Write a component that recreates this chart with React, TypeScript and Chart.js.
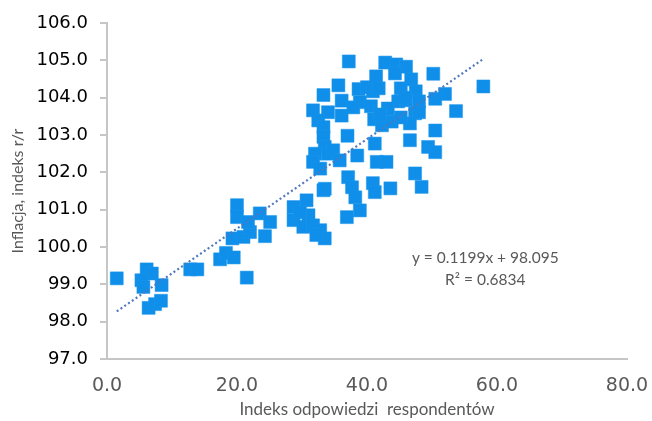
import { useEffect, useRef } from "react";
import { Chart, registerables } from "chart.js";

Chart.register(...registerables);

// Indeks odpowiedzi respondentów (x) and Inflacja, indeks r/r (y)
const xValues = [
  1.5, 6.1, 6.9, 5.3, 5.6, 8.4, 6.4, 7.4, 8.3, 12.8, 13.9, 17.4, 18.3, 19.5, 21.5,
  20.0, 20.0, 19.3, 21.0, 22.0, 21.7, 23.5, 25.1, 24.3,
  28.7, 30.7, 31.0, 28.7, 30.2, 31.7, 32.8, 33.5, 33.3, 29.7, 32.2,
  37.1, 37.7, 38.2, 38.9, 36.9, 40.9, 41.2, 43.6, 47.4, 48.4,
  37.2, 35.6, 33.3, 31.7, 32.5, 34.0, 36.1, 38.7, 40.0, 38.9, 36.1, 37.9, 33.3, 33.3,
  33.5, 32.0, 31.7, 32.8, 34.0, 34.8, 35.8, 33.5, 37.0, 38.5, 41.2, 41.5, 43.0, 46.6,
  49.4, 50.5, 50.5, 50.2, 52.0, 50.5, 53.7, 57.9,
  42.8, 44.5, 46.0, 41.4, 40.9, 40.6, 41.1, 46.8, 47.5, 48.0, 47.4, 46.6, 42.3, 43.8,
  45.2, 41.8, 45.2, 44.8, 43.2, 44.3, 46.0, 48.0, 42.0, 45.8,
];
const yValues = [
  99.16, 99.4, 99.29, 99.11, 98.93, 98.98, 98.37, 98.47, 98.56, 99.4, 99.4, 99.67, 99.84, 99.72, 99.18,
  101.12, 100.8, 100.23, 100.27, 100.4, 100.67, 100.9, 100.67, 100.29,
  101.07, 101.25, 100.85, 100.72, 100.54, 100.58, 100.45, 100.23, 101.52, 100.93, 100.32,
  101.87, 101.6, 101.33, 100.98, 100.8, 101.71, 101.47, 101.57, 101.97, 101.61,
  104.97, 104.33, 104.07, 103.66, 103.39, 103.61, 103.92, 104.23, 104.28, 103.88, 103.52, 103.74, 103.21, 102.95,
  102.68, 102.5, 102.28, 102.1, 102.5, 102.59, 102.32, 101.56, 102.98, 102.45, 102.77, 102.28, 102.28, 102.86,
  102.68, 102.54, 103.12, 104.64, 104.1, 103.97, 103.64, 104.3,
  104.94, 104.89, 104.83, 104.57, 104.17, 103.77, 103.42, 104.49, 104.17, 103.9, 103.58, 103.31, 103.26, 103.36,
  103.47, 104.25, 104.25, 103.9, 103.71, 104.65, 103.93, 103.61, 103.55, 104.0,
];

const trendSlope = 0.1199;
const trendIntercept = 98.095;
const rSquared = 0.6834;

const xTicks = [0, 20, 40, 60, 80];
const yTicks = [97, 98, 99, 100, 101, 102, 103, 104, 105, 106];

const xTitle = "Indeks odpowiedzi  respondentów";
const yTitle = "Inflacja, indeks r/r";
const eqLine1 = `y = ${trendSlope}x + ${trendIntercept}`;
const eqLine2 = `R² = ${rSquared}`;
const eqAnchor = { x: 58.2, y1: 99.7, y2: 99.11 };

const eqPlugin = {
  id: "eqText",
  afterDatasetsDraw(chart: any) {
    const { ctx, scales } = chart;
    const px = scales.x.getPixelForValue(eqAnchor.x);
    ctx.save();
    ctx.font = "15.5px Lato";
    ctx.fillStyle = "#595959";
    ctx.textAlign = "center";
    ctx.textBaseline = "middle";
    ctx.fillText(eqLine1, px, scales.y.getPixelForValue(eqAnchor.y1));
    ctx.fillText(eqLine2, px, scales.y.getPixelForValue(eqAnchor.y2));
    ctx.restore();
  },
};

export default function App() {
  const ref = useRef<HTMLCanvasElement | null>(null);
  useEffect(() => {
    if (!ref.current) return;
    const points = xValues.map((x, i) => ({ x, y: yValues[i] }));
    const xMin = Math.min(...xValues);
    const xMax = Math.max(...xValues);
    const trend = [
      { x: xMin, y: trendSlope * xMin + trendIntercept },
      { x: xMax, y: trendSlope * xMax + trendIntercept },
    ];
    const axisColor = "#c6c6c6";
    const chart = new Chart(ref.current, {
      type: "scatter",
      data: {
        datasets: [
          {
            data: points,
            pointStyle: "rect",
            pointRadius: 9.2,
            pointHoverRadius: 9.2,
            backgroundColor: "#0f8fe9",
            borderColor: "#1e96ec",
            borderWidth: 0.5,
            order: 2,
          },
          {
            type: "line",
            data: trend,
            borderColor: "#4f78bd",
            borderWidth: 2.2,
            borderDash: [2, 2.6],
            pointRadius: 0,
            fill: false,
            order: 1,
          } as any,
        ],
      },
      options: {
        animation: false,
        responsive: false,
        plugins: { legend: { display: false }, tooltip: { enabled: false } },
        layout: { padding: { left: 0, right: 25, top: 23, bottom: 0 } },
        scales: {
          x: {
            type: "linear",
            min: 0,
            max: 80,
            afterBuildTicks: (s: any) => {
              s.ticks = xTicks.map((v) => ({ value: v }));
            },
            ticks: {
              callback: (v: any) => Number(v).toFixed(1),
              color: "#595959",
              font: { family: "DejaVu Sans", size: 19 },
              padding: 16,
              maxRotation: 0,
            },
            grid: { drawOnChartArea: false, drawTicks: false, color: axisColor },
            border: { color: axisColor, width: 2 },
            title: {
              display: true,
              text: xTitle,
              color: "#595959",
              font: { family: "Lato", size: 17 },
              padding: { top: 2, bottom: 1 },
            },
            afterFit: (s: any) => {
              s.height = 62;
              s.paddingLeft = 0;
              s.paddingRight = 0;
            },
          },
          y: {
            min: 97,
            max: 106,
            afterBuildTicks: (s: any) => {
              s.ticks = yTicks.map((v) => ({ value: v }));
            },
            ticks: {
              callback: (v: any) => Number(v).toFixed(1),
              color: "#000000",
              font: { family: "DejaVu Sans", size: 18 },
              padding: 12,
            },
            grid: {
              drawOnChartArea: false,
              drawTicks: true,
              tickLength: 7,
              color: axisColor,
              lineWidth: 2,
            },
            border: { color: axisColor, width: 2 },
            title: {
              display: true,
              text: yTitle,
              color: "#595959",
              font: { family: "Lato", size: 16 },
              padding: { top: 8, bottom: 0 },
            },
            afterFit: (s: any) => {
              s.width = 107;
              s.paddingTop = 0;
              s.paddingBottom = 0;
            },
          },
        },
      },
      plugins: [eqPlugin],
    });
    return () => chart.destroy();
  }, []);
  return (
    <div style={{ position: "fixed", left: 0, top: 0, width: 652, height: 421, background: "#fff" }}>
      <canvas ref={ref} width={652} height={421} />
    </div>
  );
}
